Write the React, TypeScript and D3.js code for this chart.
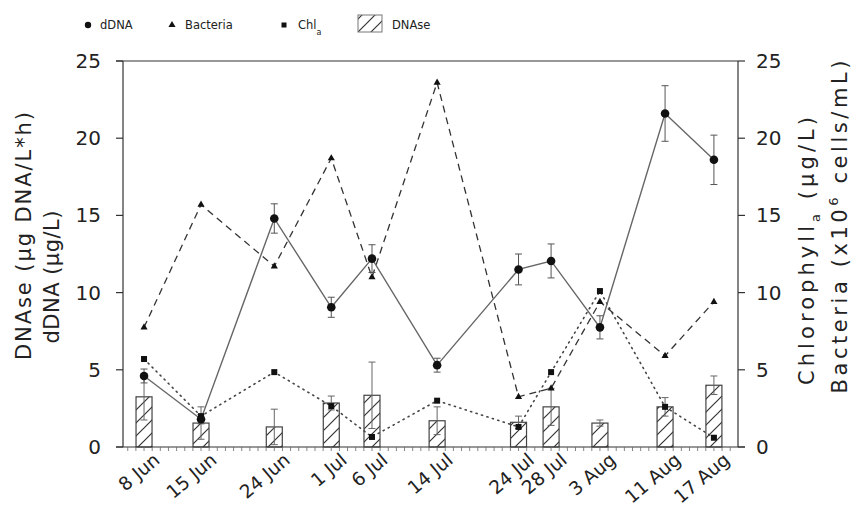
import React from 'react';
import * as d3 from 'd3';

const dateStrings = ['1990-06-08', '1990-06-15', '1990-06-24', '1990-07-01', '1990-07-06', '1990-07-14', '1990-07-24', '1990-07-28', '1990-08-03', '1990-08-11', '1990-08-17'];
const dateLabels = ['8 Jun', '15 Jun', '24 Jun', '1 Jul', '6 Jul', '14 Jul', '24 Jul', '28 Jul', '3 Aug', '11 Aug', '17 Aug'];
const dDNA = [4.6, 1.8, 14.8, 9.05, 12.2, 5.3, 11.5, 12.05, 7.75, 21.6, 18.6];
const dDNASd = [0.45, 0.3, 0.95, 0.65, 0.9, 0.45, 1.0, 1.1, 0.75, 1.8, 1.6];
const bacteria = [7.75, 15.7, 11.7, 18.7, 11.0, 23.6, 3.25, 3.8, 9.4, 5.9, 9.4];
const chla = [5.7, 2.0, 4.85, 2.65, 0.65, 3.0, 1.3, 4.85, 10.1, 2.6, 0.6];
const dnase = [3.25, 1.55, 1.3, 2.85, 3.35, 1.7, 1.6, 2.6, 1.55, 2.6, 4.0];
const dnaseSd = [1.5, 1.05, 1.15, 0.45, 2.15, 0.9, 0.4, 1.2, 0.2, 0.6, 0.6];
const yTicks = [0, 5, 10, 15, 20, 25];

const FONT = 'DejaVu Sans';

export default function App() {
  const parse = d3.timeParse('%Y-%m-%d');
  const dates = dateStrings.map((s) => parse(s) as Date);
  const left = 123, right = 738, top = 61, bottom = 447;
  const x = d3
    .scaleTime()
    .domain([d3.timeHour.offset(dates[0], -62), d3.timeHour.offset(dates[dates.length - 1], 71)])
    .range([left, right]);
  const y = d3.scaleLinear().domain([0, 25]).range([bottom, top]);

  const lineGen = (vals: number[]) =>
    d3
      .line<number>()
      .x((_, i) => x(dates[i]))
      .y((v) => y(v))(vals) as string;

  const days = d3.timeDay.range(d3.timeDay.ceil(x.domain()[0]), x.domain()[1]);
  const barW = 16;
  const ax = '#333';

  return (
    <svg width={855} height={521} style={{ position: 'absolute', left: 0, top: 0, background: '#fff' }} fontFamily={FONT}>
      <defs>
        <pattern id="hatch" patternUnits="userSpaceOnUse" width={13} height={13}>
          <path d="M0,13 L13,0 M-4,4 L4,-4 M9,17 L17,9" stroke="#333" strokeWidth={1.2} />
        </pattern>
      </defs>

      {/* Legend */}
      <g fontSize={11.5} fill="#222">
        <circle cx={88} cy={25} r={3.2} fill="#111" />
        <text x={100} y={29}>dDNA</text>
        <path d={d3.symbol(d3.symbolTriangle, 22)() as string} transform="translate(172,25)" fill="#111" />
        <text x={185} y={29}>Bacteria</text>
        <rect x={281.5} y={22.5} width={5} height={5} fill="#111" />
        <text x={298} y={29}>Chl<tspan fontSize={8} dy={6}>a</tspan></text>
        <rect x={358} y={15} width={24} height={17} fill="url(#hatch)" stroke="#777" strokeWidth={1} />
        <text x={392} y={29}>DNAse</text>
      </g>

      {/* Bars */}
      {dnase.map((v, i) => (
        <rect key={'b' + i} x={x(dates[i]) - barW / 2} y={y(v)} width={barW} height={y(0) - y(v)} fill="url(#hatch)" stroke="#444" strokeWidth={1.2} />
      ))}
      {dnase.map((v, i) => {
        const cx = x(dates[i]);
        const hi = y(v + dnaseSd[i]);
        const lo = y(Math.max(0, v - dnaseSd[i]));
        return (
          <g key={'be' + i} stroke="#666" strokeWidth={1}>
            <line x1={cx} x2={cx} y1={hi} y2={lo} />
            <line x1={cx - 3.5} x2={cx + 3.5} y1={hi} y2={hi} />
            <line x1={cx - 3.5} x2={cx + 3.5} y1={lo} y2={lo} />
          </g>
        );
      })}

      {/* Axes */}
      <g stroke={ax} strokeWidth={1.2} fill="none">
        <line x1={left} x2={left} y1={top} y2={bottom} />
        <line x1={right} x2={right} y1={top} y2={bottom} />
        <line x1={left - 7} x2={right} y1={top} y2={top} />
        <line x1={left - 7} x2={right + 7} y1={bottom} y2={bottom} />
        {yTicks.map((t) => (
          <g key={'t' + t}>
            <line x1={left - 7} x2={left} y1={y(t)} y2={y(t)} />
            <line x1={right} x2={right + 7} y1={y(t)} y2={y(t)} />
          </g>
        ))}
        {days.map((d, i) => (
          <line key={'d' + i} x1={x(d)} x2={x(d)} y1={bottom} y2={bottom + 4} strokeWidth={0.8} stroke="#666" />
        ))}
      </g>
      <g fontSize={20} fill="#222">
        {yTicks.map((t) => (
          <g key={'tl' + t}>
            <text x={101} y={y(t) + 7} textAnchor="end">{t}</text>
            <text x={756} y={y(t) + 7}>{t}</text>
          </g>
        ))}
      </g>
      <g fontSize={18.5} fill="#222">
        {dateLabels.map((l, i) => (
          <text key={'xl' + i} transform={`translate(${x(dates[i]) + 17},${462}) rotate(-40)`} textAnchor="end">{l}</text>
        ))}
      </g>

      {/* Axis titles */}
      <g fontSize={21} fill="#222" textAnchor="middle">
        <text transform="translate(31,236) rotate(-90)" textLength={248} lengthAdjust="spacing">DNAse (μg DNA/L*h)</text>
        <text transform="translate(59,277) rotate(-90)" textLength={133} lengthAdjust="spacing">dDNA (μg/L)</text>
        <text transform="translate(814,251) rotate(-90)" textLength={268} lengthAdjust="spacing">
          Chlorophyll<tspan fontSize={13} dy={6}>a</tspan><tspan dy={-6}> (μg/L)</tspan>
        </text>
        <text transform="translate(847,227) rotate(-90)" textLength={333} lengthAdjust="spacing">
          Bacteria (x10<tspan fontSize={13} dy={-9}>6</tspan><tspan dy={9}> cells/mL)</tspan>
        </text>
      </g>

      {/* Lines */}
      <path d={lineGen(chla)} fill="none" stroke="#444" strokeWidth={1.6} strokeDasharray="1.2,4.5" strokeLinecap="round" />
      <path d={lineGen(bacteria)} fill="none" stroke="#333" strokeWidth={1.3} strokeDasharray="7,5" />
      <path d={lineGen(dDNA)} fill="none" stroke="#666" strokeWidth={1.4} />

      {/* dDNA error bars */}
      {dDNA.map((v, i) => {
        const cx = x(dates[i]);
        const hi = y(v + dDNASd[i]);
        const lo = y(v - dDNASd[i]);
        return (
          <g key={'de' + i} stroke="#555" strokeWidth={1}>
            <line x1={cx} x2={cx} y1={hi} y2={lo} />
            <line x1={cx - 3.5} x2={cx + 3.5} y1={hi} y2={hi} />
            <line x1={cx - 3.5} x2={cx + 3.5} y1={lo} y2={lo} />
          </g>
        );
      })}

      {/* Markers */}
      {chla.map((v, i) => (
        <rect key={'c' + i} x={x(dates[i]) - 3} y={y(v) - 3} width={6} height={6} fill="#111" />
      ))}
      {bacteria.map((v, i) => (
        <path key={'tr' + i} d={d3.symbol(d3.symbolTriangle, 22)() as string} transform={`translate(${x(dates[i])},${y(v)})`} fill="#111" />
      ))}
      {dDNA.map((v, i) => (
        <circle key={'o' + i} cx={x(dates[i])} cy={y(v)} r={4.3} fill="#111" />
      ))}
    </svg>
  );
}
